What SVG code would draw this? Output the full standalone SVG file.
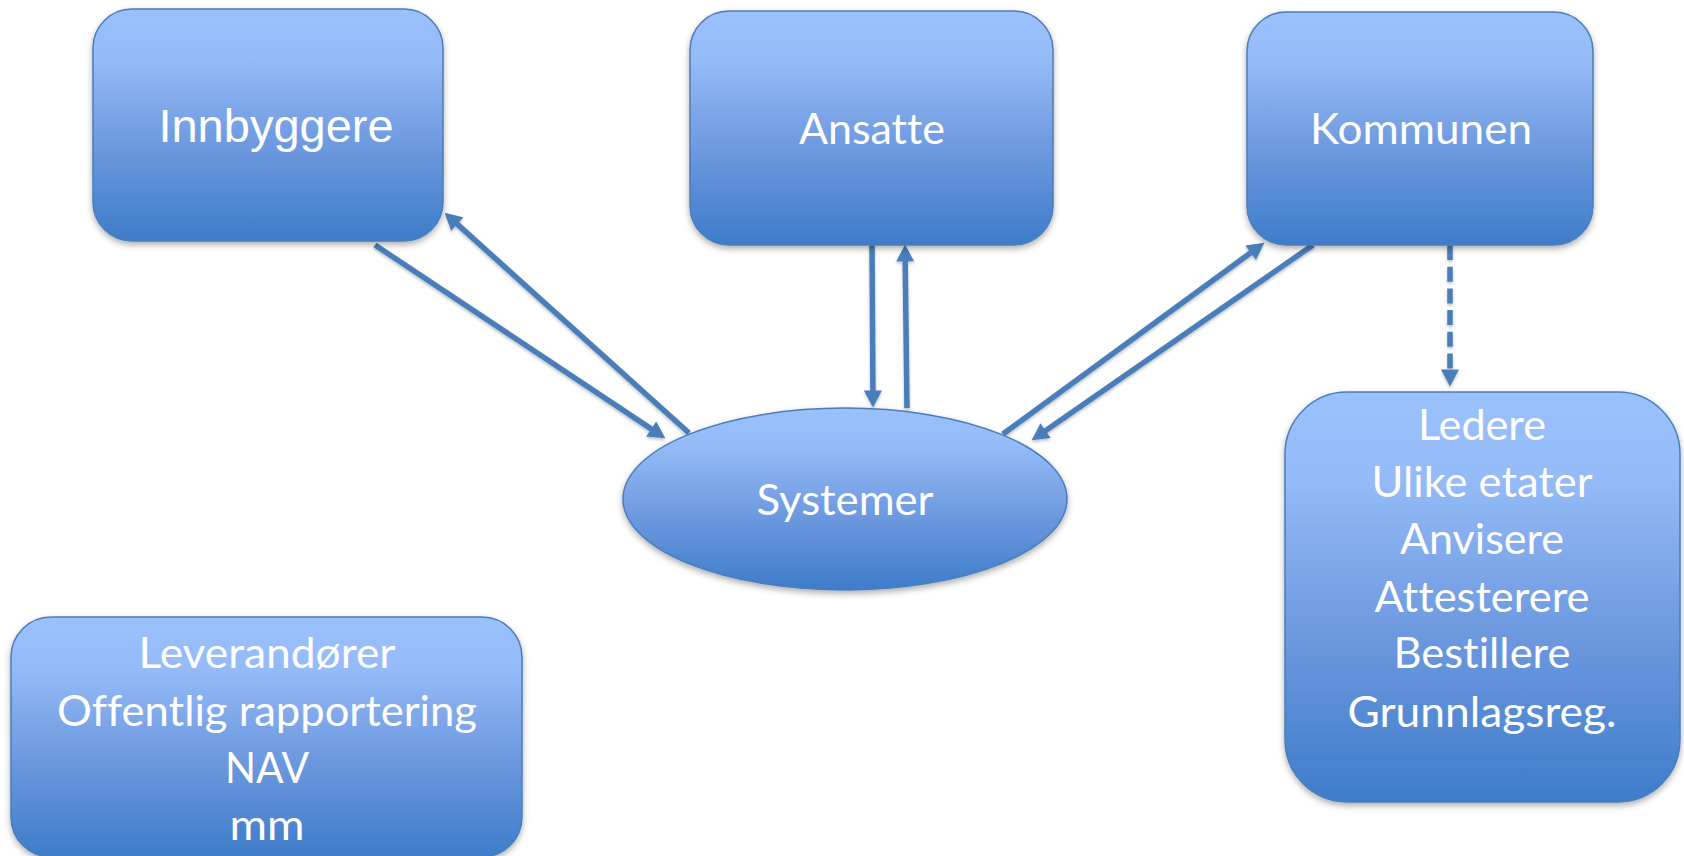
<svg xmlns="http://www.w3.org/2000/svg" width="1684" height="856" viewBox="0 0 1684 856">
<defs>
<linearGradient id="g" x1="0" y1="0" x2="0" y2="1">
<stop offset="0" stop-color="#9bc1fd"/>
<stop offset="0.22" stop-color="#94baf7"/>
<stop offset="0.6" stop-color="#6c98de"/>
<stop offset="1" stop-color="#3e7cca"/>
</linearGradient>
<filter id="sh" x="-10%" y="-10%" width="120%" height="125%">
<feDropShadow dx="0" dy="3" stdDeviation="3" flood-color="#000" flood-opacity="0.32"/>
</filter>
<filter id="lsh" x="-10%" y="-10%" width="120%" height="120%">
<feDropShadow dx="0" dy="2" stdDeviation="1.5" flood-color="#000" flood-opacity="0.25"/>
</filter>
<marker id="ah" markerUnits="userSpaceOnUse" markerWidth="18" markerHeight="18" viewBox="0 0 16 17" refX="8" refY="8.5" orient="auto">
<path d="M0,0 L16,8.5 L0,17 z" fill="#4a7ebb"/>
</marker>
</defs>
<style>
.box{fill:url(#g);stroke:#4a7ebb;stroke-width:1.5;filter:url(#sh)}
.t{fill:#fff;font-family:Lato,"Noto Sans",sans-serif;font-size:42px;text-anchor:middle;font-variant-ligatures:none;font-feature-settings:"liga" 0,"clig" 0}
.ta{fill:#fff;font-family:"Liberation Sans",Arial,sans-serif;font-size:47px;text-anchor:middle}
.c{stroke:#4a7ebb;stroke-width:5.5;fill:none;marker-end:url(#ah)}
</style>
<rect width="1684" height="856" fill="#fff"/>
<g id="connectors" filter="url(#lsh)">
<line class="c" x1="375" y1="245" x2="658.3" y2="433.6"/>
<line class="c" x1="689" y1="433" x2="450.9" y2="218.4"/>
<line class="c" x1="872" y1="245" x2="873" y2="399"/>
<line class="c" x1="907" y1="408" x2="905.1" y2="253"/>
<line class="c" x1="1003" y1="434" x2="1257.5" y2="247.7"/>
<line class="c" x1="1313" y1="245" x2="1038.6" y2="435.4"/>
<line class="c" x1="1450" y1="245" x2="1450" y2="378" stroke-dasharray="15 6.7"/>
</g>
<g id="innbyggere">
<rect class="box" x="93" y="9" width="350" height="232" rx="39"/>
<text class="ta" x="276" y="142">Innbyggere</text>
</g>
<g id="ansatte">
<rect class="box" x="690" y="11" width="363" height="234" rx="39"/>
<text class="t" x="872" y="144" textLength="146" lengthAdjust="spacingAndGlyphs">Ansatte</text>
</g>
<g id="kommunen">
<rect class="box" x="1247" y="12" width="346" height="233" rx="39"/>
<text class="t" x="1421" y="144" textLength="222" lengthAdjust="spacingAndGlyphs">Kommunen</text>
</g>
<g id="systemer">
<ellipse class="box" cx="845" cy="499" rx="222" ry="91"/>
<text class="t" x="845" y="515" textLength="177" lengthAdjust="spacingAndGlyphs">Systemer</text>
</g>
<g id="ledere">
<rect class="box" x="1285" y="392" width="395" height="410" rx="62"/>
<text class="t" x="1482" y="440" textLength="128" lengthAdjust="spacingAndGlyphs">Ledere</text>
<text class="t" x="1482" y="497" textLength="221" lengthAdjust="spacingAndGlyphs">Ulike etater</text>
<text class="t" x="1482" y="554" textLength="164" lengthAdjust="spacingAndGlyphs">Anvisere</text>
<text class="t" x="1482" y="612" textLength="215" lengthAdjust="spacingAndGlyphs">Attesterere</text>
<text class="t" x="1482" y="668" textLength="177" lengthAdjust="spacingAndGlyphs">Bestillere</text>
<text class="t" x="1482" y="727" textLength="269" lengthAdjust="spacingAndGlyphs">Grunnlagsreg.</text>
</g>
<g id="leverandorer">
<rect class="box" x="11" y="617" width="511" height="240" rx="40"/>
<text class="t" x="267" y="668" textLength="257" lengthAdjust="spacingAndGlyphs">Leverandører</text>
<text class="t" x="267" y="726" textLength="420" lengthAdjust="spacingAndGlyphs">Offentlig rapportering</text>
<text class="t" x="267" y="783" textLength="84" lengthAdjust="spacingAndGlyphs">NAV</text>
<text class="t" x="267" y="840" textLength="75" lengthAdjust="spacingAndGlyphs">mm</text>
</g>
</svg>
